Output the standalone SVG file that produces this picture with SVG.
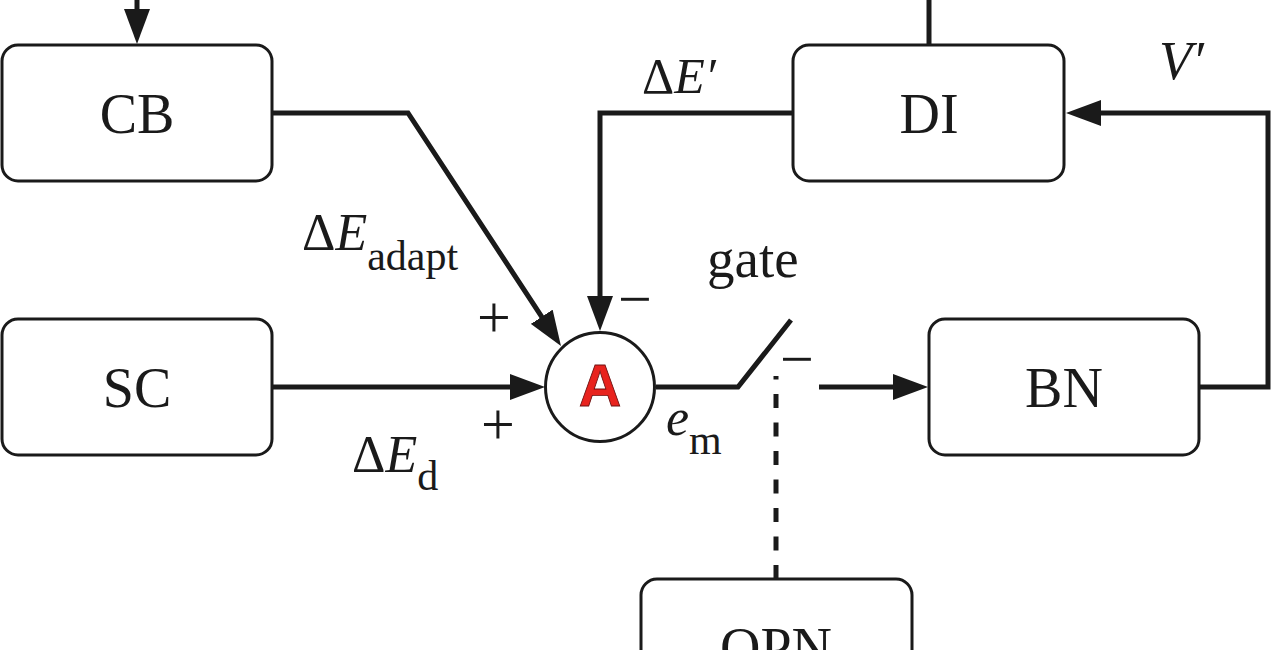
<svg xmlns="http://www.w3.org/2000/svg" width="1272" height="650" viewBox="0 0 1272 650">
<style>
.box{fill:#fff;stroke:#1a1a1a;stroke-width:3}
.lbl{font-family:"Liberation Serif","Times New Roman",serif;font-size:56px;fill:#1a1a1a;text-anchor:middle}
.math{font-family:"Liberation Serif","Times New Roman",serif;fill:#1a1a1a}
.con{fill:none;stroke:#1a1a1a;stroke-width:5;stroke-linejoin:miter}
.arr{marker-end:url(#ah)}
</style>
<defs>
<marker id="ah" markerUnits="userSpaceOnUse" markerWidth="36" markerHeight="26" refX="15" refY="13" orient="auto" viewBox="0 0 36 26">
<path d="M0,0 L35,13 L0,26 z" fill="#1a1a1a"/>
</marker>
</defs>
<rect width="1272" height="650" fill="#fff"/>
<g id="connectors">
<path class="con arr" d="M137,0 V24"/>
<path class="con" d="M929,0 V45"/>
<path class="con arr" d="M272,113 H408 L550,329.3"/>
<path class="con arr" d="M793,113 H600 V311"/>
<path class="con arr" d="M272,387 H525"/>
<path class="con" d="M656,387 H738 L791,320"/>
<path class="con arr" d="M819,387 H908"/>
<path class="con arr" d="M1199,387 H1268 V113 H1086"/>
<path class="con" d="M776,579 V376" stroke-dasharray="14 14.5"/>
</g>
<g id="CB"><rect class="box" x="2" y="45" width="270" height="136" rx="16"/><text class="lbl" x="137" y="133">CB</text></g>
<g id="DI"><rect class="box" x="793" y="45" width="271" height="136" rx="16"/><text class="lbl" x="929" y="133">DI</text></g>
<g id="SC"><rect class="box" x="2" y="319" width="270" height="136" rx="16"/><text class="lbl" x="137" y="407">SC</text></g>
<g id="BN"><rect class="box" x="929" y="319" width="270" height="136" rx="16"/><text class="lbl" x="1064" y="407">BN</text></g>
<g id="OPN"><rect class="box" x="641" y="579" width="271" height="136" rx="16"/><text class="lbl" x="776" y="667">OPN</text></g>
<g id="A"><circle cx="600" cy="387" r="54.5" fill="#fff" stroke="#1a1a1a" stroke-width="3"/><text x="600" y="406" font-family="Liberation Sans,Arial,sans-serif" font-size="59" font-weight="bold" fill="#e8231e" stroke="#6a1010" stroke-width="0.8" text-anchor="middle">A</text></g>
<g id="labels">
<text class="math" x="642" y="93" font-size="50">Δ<tspan font-style="italic">E′</tspan></text>
<text class="math" x="1159" y="79" font-size="54" font-style="italic">V′</text>
<text class="math" x="302" y="250" font-size="52">Δ<tspan font-style="italic">E</tspan><tspan font-size="42" dy="20">adapt</tspan></text>
<text class="math" x="352" y="472" font-size="52">Δ<tspan font-style="italic">E</tspan><tspan font-size="42" dy="18">d</tspan></text>
<text class="math" x="666" y="435" font-size="52" font-style="italic">e<tspan font-style="normal" font-size="42" dy="19">m</tspan></text>
<text class="math" x="707" y="277" font-size="55">gate</text>
<text class="math" x="494" y="337" font-size="60" text-anchor="middle">+</text>
<text class="math" x="498" y="444" font-size="60" text-anchor="middle">+</text>
<text class="math" x="635" y="319" font-size="60" text-anchor="middle">−</text>
<text class="math" x="797" y="379" font-size="60" text-anchor="middle">−</text>
</g>
</svg>
